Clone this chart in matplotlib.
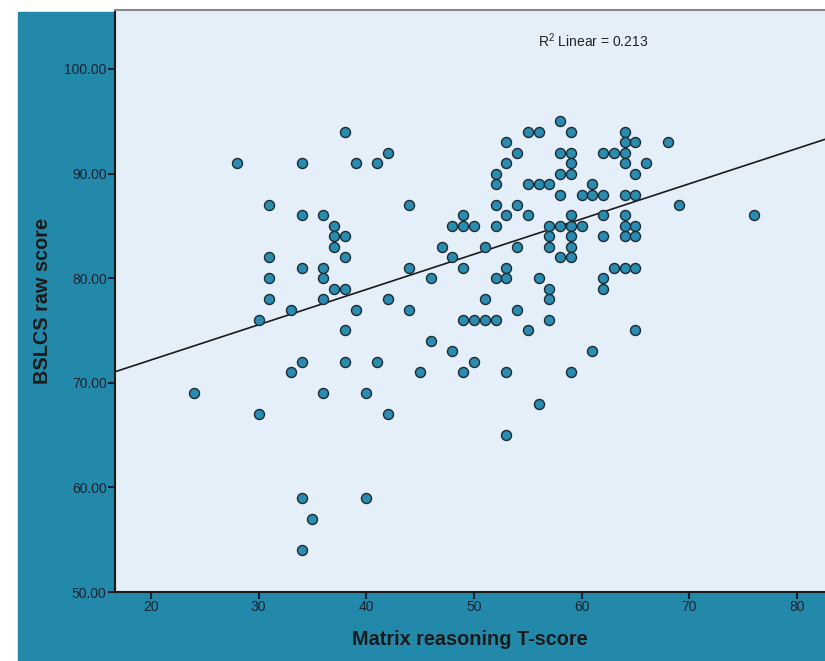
import numpy as np
import matplotlib.pyplot as plt
from matplotlib.patches import Rectangle

plt.rcParams['font.family'] = ['Liberation Sans', 'DejaVu Sans']
plt.rcParams['mathtext.fontset'] = 'custom'
plt.rcParams['mathtext.rm'] = 'Liberation Sans'

# raw scores (BSLCS) and the Matrix reasoning T-scores that go with them
scores = [95, 94, 93, 92, 91, 90, 89, 88, 87, 86, 85, 84, 83, 82, 81, 80,
          79, 78, 77, 76, 75, 74, 73, 72, 71, 69, 68, 67, 65, 59, 57, 54]
tscores = [
    [58],
    [38, 55, 56, 59, 64],
    [53, 64, 65, 68],
    [42, 54, 58, 59, 62, 63, 64],
    [28, 34, 39, 41, 53, 59, 64, 66],
    [52, 58, 59, 65],
    [52, 55, 56, 57, 61],
    [58, 60, 61, 62, 64, 65],
    [31, 44, 52, 54, 69],
    [34, 36, 49, 53, 55, 59, 62, 64, 76],
    [37, 48, 49, 50, 52, 57, 58, 59, 60, 64, 65],
    [37, 38, 57, 59, 62, 64, 65],
    [37, 47, 51, 54, 57, 59],
    [31, 38, 48, 58, 59],
    [34, 36, 44, 49, 53, 63, 64, 65],
    [31, 36, 46, 52, 53, 56, 62],
    [37, 38, 57, 62],
    [31, 36, 42, 51, 57],
    [33, 39, 44, 54],
    [30, 49, 50, 51, 52, 57],
    [38, 55, 65],
    [46],
    [48, 61],
    [34, 38, 41, 50],
    [33, 45, 49, 53, 59],
    [24, 36, 40],
    [56],
    [30, 42],
    [53],
    [34, 40],
    [35],
    [34],
]

# fit line as shown on the chart (overlapping points hide some cases)
fit_intercept = 65.44
fit_slope = 0.337

x = np.array([t for row in tscores for t in row], dtype=float)
y = np.array([s for s, row in zip(scores, tscores) for _ in row], dtype=float)

teal = '#2389aa'
fig = plt.figure(figsize=(8.25, 6.61), dpi=100)
fig.patch.set_facecolor('white')
bg = Rectangle((18 / 825, 0), 1, (661 - 12) / 661,
               transform=fig.transFigure, color=teal, zorder=-5)
fig.add_artist(bg)

ax = fig.add_axes([115 / 825, 69 / 661, 710 / 825, 582 / 661])
ax.set_zorder(2)
ax.set_facecolor('#e4effa')

ax.scatter(x, y, s=52, color='#2a8cae', edgecolors='#1c2a33',
           linewidths=1.0, zorder=3)

xl = np.array([16.66, 82.6])
ax.plot(xl, fit_intercept + fit_slope * xl, color='#1a1a1a', lw=1.2, zorder=2)

ax.set_xlim(16.66, 82.6)
ax.set_ylim(50, 105.64)
ax.set_xticks([20, 30, 40, 50, 60, 70, 80])
ax.set_yticks([50, 60, 70, 80, 90, 100])
ax.set_yticklabels([f'{v:.2f}' for v in [50, 60, 70, 80, 90, 100]])
ax.tick_params(direction='out', length=5, width=1.5, colors='#15222e',
               labelsize=10, pad=1)

for side in ['left', 'bottom']:
    ax.spines[side].set_color('#1a1a1a')
    ax.spines[side].set_linewidth(1.5)
ax.spines['top'].set_color('#888888')
ax.spines['top'].set_linewidth(1.5)
ax.spines['right'].set_visible(False)

ax.set_xlabel('Matrix reasoning T-score', fontsize=14.3, fontweight='bold',
              color='#1a1a1a', labelpad=11)
ax.set_ylabel('BSLCS raw score', fontsize=14.3, fontweight='bold',
              color='#1a1a1a', labelpad=9)

ax.text(0.673, 0.948, r'R$^{2}$ Linear = 0.213', transform=ax.transAxes,
        ha='center', va='center', fontsize=10, color='#222222')

fig.savefig('out.png', dpi=100)
